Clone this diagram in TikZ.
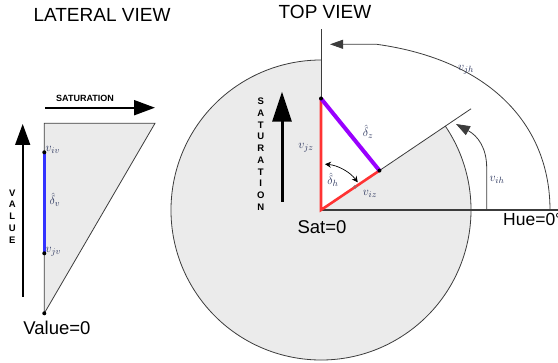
\documentclass[tikz,border=0pt]{standalone}
\usepackage{fontspec}
\setmainfont{Liberation Sans}
\usetikzlibrary{arrows.meta,calc}
\definecolor{gfill}{RGB}{235,235,235}
\definecolor{edge}{RGB}{60,60,60}
\definecolor{lbl}{RGB}{45,55,95}
\definecolor{redl}{RGB}{255,51,51}
\definecolor{purp}{RGB}{153,0,255}
\definecolor{bluel}{RGB}{51,51,255}
\tikzset{
  thin edge/.style={draw=edge, line width=0.8pt},
  title/.style={font=\fontsize{19}{22}\selectfont, inner sep=0pt},
  big/.style={font=\fontsize{18.5}{22}\selectfont, inner sep=0pt},
  mlabel/.style={text=lbl, font=\fontsize{13}{15}\selectfont, inner sep=0pt},
  vtext/.style={font=\bfseries\fontsize{9.5}{11.7}\selectfont, align=center, inner sep=0pt},
  dotp/.style={fill=black, draw=none},
  bigarrow/.style={-{Triangle[length=21pt,width=15pt]}, line width=1.6pt},
}
\begin{document}
\begin{tikzpicture}[x=1pt,y=1pt]
\useasboundingbox (0,0) rectangle (558,-363);

% ---------- LATERAL VIEW ----------
\node[title] (lt) at (102,-15) {LATERAL VIEW};
\coordinate (LA) at (44.3,-123.3);
\coordinate (LB) at (155,-123.3);
\coordinate (L0) at (44.3,-313.3);
\coordinate (Liv) at (44.3,-152.3);
\coordinate (Ljv) at (44.3,-253.3);
\filldraw[fill=gfill, thin edge] (LA) -- (LB) -- (L0) -- cycle;
\draw[bluel, line width=3pt] (Liv) -- (Ljv);
\fill[dotp] (Liv) circle (2);
\fill[dotp] (Ljv) circle (2);
\fill[dotp] (L0) circle (2);
\node[mlabel, anchor=west] (liv) at (45.5,-150) {$v_{iv}$};
\node[mlabel, anchor=west] (ljv) at (45.5,-252) {$v_{jv}$};
\node[mlabel] (ldv) at (55,-200) {$\hat{\delta}_v$};
\node[big] (v0) at (57,-328) {Value=0};

\coordinate (va0) at (22.7,-296.7);
\coordinate (va1) at (22.7,-124);
\draw[bigarrow] (va0) -- (va1);
\node[vtext] (vt) at (12.3,-216.4) {V\\A\\L\\U\\E};

\coordinate (sa0) at (45,-107.7);
\coordinate (sa1) at (155,-107.7);
\draw[bigarrow, line width=2pt] (sa0) -- (sa1);
\node[font=\bfseries\fontsize{9}{10}\selectfont, inner sep=0pt] (st) at (85,-98.3) {SATURATION};

% ---------- TOP VIEW ----------
\node[title] (tt) at (325,-11.7) {TOP VIEW};
\coordinate (C) at (321,-210);
\fill[gfill] (C) -- ++(34:150) arc[start angle=34, end angle=-270, radius=150] -- cycle;
\draw[thin edge] (C) ++(34:150) arc[start angle=34, end angle=-270, radius=150];
\coordinate (Vtop) at (321,-29);
\coordinate (Send) at ($(C)+(34:181)$);
\coordinate (Hend) at (560,-210);
\draw[thin edge] (C) -- (Vtop);
\draw[thin edge] (C) -- (Send);
\draw[draw=edge, line width=1.4pt] (C) -- (Hend);

\coordinate (T) at (321,-98.5);
\coordinate (R) at ($(C)+(34:70.5)$);
\draw[redl, line width=2.6pt, line join=miter] (T) -- (C) -- (R);
\draw[purp, line width=4pt] (T) -- (R);
\fill[dotp] (T) circle (2);
\fill[dotp] (R) circle (2);
\draw[gray, line width=0.5pt] ($(C)+(34:41)$) circle (1.8);

\draw[{Stealth[length=6pt,width=6pt]}-{Stealth[length=6pt,width=6pt]}, line width=0.7pt]
  ($(C)+(85:46)$) arc[start angle=85, end angle=37, radius=46];

\node[mlabel] (dz) at (368,-132) {$\hat{\delta}_z$};
\node[mlabel] (vjz) at (306,-148) {$v_{jz}$};
\node[mlabel] (dh) at (333,-180) {$\hat{\delta}_h$};
\node[mlabel] (viz) at (370,-194) {$v_{iz}$};
\node[big] (s0) at (322,-227) {Sat=0};
\node[big, anchor=west, font=\fontsize{17.5}{20}\selectfont] (h0) at (503,-219) {Hue=0°};

\coordinate (ta0) at (282,-202);
\coordinate (ta1) at (282,-91.7);
\draw[-{Triangle[length=30pt,width=19pt]}, line width=3pt] (ta0) -- (ta1);
\node[vtext] (tvt) at (260.7,-154.2) {S\\A\\T\\U\\R\\A\\T\\I\\O\\N};

% v_jh arrow
\coordinate (jhS) at (550,-210);
\coordinate (jhK) at (376.7,-44.3);
\coordinate (jhT) at (330,-44.3);
\draw[thin edge, -{Triangle[length=13pt,width=9pt]}]
  (jhS) .. controls (550,-125) and (490,-60) .. (jhK) -- (jhT);
\node[mlabel] (vjh) at (466,-70) {$v_{jh}$};

% v_ih arrow
\coordinate (ihS) at (486.7,-210);
\coordinate (ihK) at (486.7,-168);
\coordinate (ihT) at (456,-124);
\draw[thin edge, -{Triangle[length=14pt,width=10pt]}]
  (ihS) -- (ihK) .. controls (486.7,-148) and (478,-136) .. (ihT);
\node[mlabel] (vih) at (497,-180) {$v_{ih}$};
\end{tikzpicture}
\end{document}
